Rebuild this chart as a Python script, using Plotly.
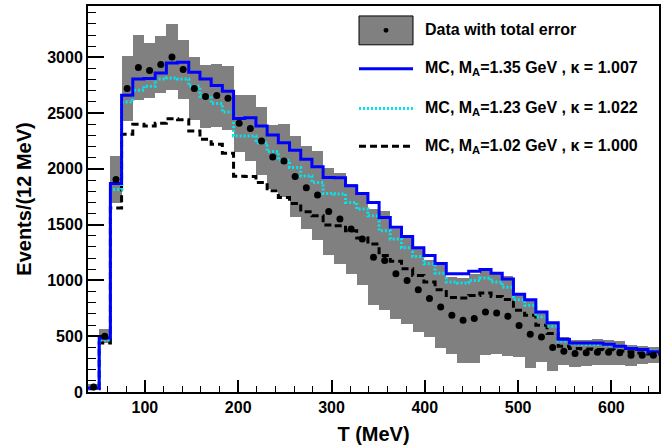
import numpy as np
import plotly.graph_objects as go

# binning: 51 bins of 12 MeV starting at 39 MeV
t_start = 39
bin_w = 12
n_bins = 51

data_val = [45, 500, 1905, 2720, 2908, 2881, 2935, 3003, 2890, 2720,
            2649, 2658, 2634, 2408, 2363, 2250, 2107, 2071, 1931, 1830,
            1765, 1619, 1551, 1461, 1372, 1208, 1179, 1060, 1000, 917,
            839, 762, 688, 643, 658, 717, 708, 679, 595, 518,
            494, 400, 366, 345, 351, 357, 357, 351, 330, 330, 330]
data_err = [25, 63, 208, 290, 288, 243, 253, 297, 265, 280,
            280, 285, 285, 258, 295, 301, 283, 327, 365, 372,
            399, 391, 408, 401, 417, 431, 447, 402, 387, 378,
            345, 372, 343, 381, 396, 387, 363, 358, 280, 301,
            223, 209, 125, 120, 118, 115, 112, 105, 95, 80, 70]
mc_135 = [35, 485, 1870, 2660, 2806, 2810, 2860, 2949, 2955, 2866,
          2806, 2747, 2696, 2452, 2458, 2384, 2304, 2235, 2167, 2086,
          2018, 1923, 1920, 1848, 1780, 1699, 1565, 1476, 1393, 1292,
          1223, 1152, 1060, 1060, 1083, 1098, 1065, 1012, 877, 828,
          717, 620, 472, 440, 440, 440, 429, 411, 390, 381, 360]
mc_123 = [33, 465, 1815, 2600, 2705, 2741, 2806, 2815, 2806, 2741,
          2652, 2586, 2510, 2295, 2295, 2235, 2155, 2077, 2012, 1937,
          1878, 1780, 1775, 1699, 1640, 1580, 1446, 1372, 1292, 1214,
          1149, 1065, 985, 976, 1000, 1021, 985, 940, 827, 777,
          673, 589, 455, 430, 425, 425, 420, 405, 392, 382, 365]
mc_102 = [30, 440, 1650, 2310, 2400, 2384, 2408, 2449, 2440, 2339,
          2265, 2220, 2140, 1935, 1931, 1878, 1804, 1744, 1690, 1616,
          1580, 1497, 1491, 1446, 1381, 1327, 1223, 1173, 1104, 1045,
          985, 917, 848, 842, 866, 887, 857, 830, 732, 688,
          598, 524, 410, 390, 385, 380, 378, 368, 360, 350, 340]

edges = t_start + bin_w * np.arange(n_bins + 1)
centers = edges[:-1] + bin_w / 2
data_val = np.array(data_val)
data_err = np.array(data_err)

FONT = "Liberation Sans"

fig = go.Figure()

# total error band (one box per bin)
fig.add_trace(go.Bar(x=centers, y=2 * data_err, base=data_val - data_err,
                     width=bin_w, marker=dict(color="#808080", line=dict(width=0)),
                     showlegend=False, hoverinfo="skip"))


def step(vals, color, dash):
    fig.add_trace(go.Scatter(x=edges, y=list(vals) + [vals[-1]], mode="lines",
                             line=dict(color=color, width=3, dash=dash, shape="hv"),
                             showlegend=False))


step(mc_102, "black", "7px,4px")
step(mc_123, "#00e5ee", "2px,2px")
step(mc_135, "#0000ff", "solid")

fig.add_trace(go.Scatter(x=centers, y=data_val, mode="markers",
                         marker=dict(color="black", size=7), showlegend=False))

# hand-made legend, ROOT style
def px_x(p):
    return (p - 88) / 571


def px_y(p):
    return (392 - p) / 388


shapes = [
    dict(type="rect", xref="paper", yref="paper", x0=px_x(359), x1=px_x(413),
         y0=px_y(43), y1=px_y(14), fillcolor="#808080", line=dict(color="black", width=1)),
    dict(type="circle", xref="paper", yref="paper", x0=px_x(383.5), x1=px_x(388.5),
         y0=px_y(31), y1=px_y(26), fillcolor="black", line=dict(color="black", width=0)),
    dict(type="line", xref="paper", yref="paper", x0=px_x(359), x1=px_x(413),
         y0=px_y(67), y1=px_y(67), line=dict(color="#0000ff", width=3)),
    dict(type="line", xref="paper", yref="paper", x0=px_x(359), x1=px_x(413),
         y0=px_y(107), y1=px_y(107), line=dict(color="#00e5ee", width=3, dash="2px,2px")),
    dict(type="line", xref="paper", yref="paper", x0=px_x(359), x1=px_x(413),
         y0=px_y(145), y1=px_y(145), line=dict(color="black", width=3, dash="7px,4px")),
]
labels = ["Data with total error",
          "MC, M<sub>A</sub>=1.35 GeV , κ = 1.007",
          "MC, M<sub>A</sub>=1.23 GeV , κ = 1.022",
          "MC, M<sub>A</sub>=1.02 GeV , κ = 1.000"]
rows = [28, 67, 107, 145]
annotations = []
for lab, r in zip(labels, rows):
    annotations.append(dict(text=lab, xref="paper", yref="paper", x=px_x(423), y=px_y(r),
                            xanchor="left", yanchor="middle", showarrow=False,
                            font=dict(family=FONT, size=16, color="black", weight="bold")))

fig.update_layout(
    width=672, height=447,
    margin=dict(l=88, r=13, t=4, b=55),
    paper_bgcolor="white", plot_bgcolor="white",
    bargap=0, showlegend=False,
    shapes=shapes, annotations=annotations,
    font=dict(family=FONT, color="black"),
)
fig.update_xaxes(range=[39, 651], showgrid=False, zeroline=False,
                 showline=True, linecolor="black", linewidth=2, mirror=True,
                 ticks="inside", ticklen=12, tickwidth=1.5, tickcolor="black",
                 tickvals=[100, 200, 300, 400, 500, 600],
                 minor=dict(ticks="inside", ticklen=6, tickwidth=1, tickcolor="black", dtick=20,
                            tick0=0, showgrid=False),
                 tickfont=dict(size=16, weight="bold"),
                 title=dict(text="T (MeV)", font=dict(size=20, weight="bold"), standoff=12))
fig.update_yaxes(range=[0, 3460], showgrid=False, zeroline=False,
                 showline=True, linecolor="black", linewidth=2, mirror=True,
                 ticks="inside", ticklen=16, tickwidth=1.5, tickcolor="black",
                 tick0=0, dtick=500,
                 minor=dict(ticks="inside", ticklen=8, tickwidth=1, tickcolor="black", dtick=100,
                            showgrid=False),
                 tickfont=dict(size=16, weight="bold"),
                 title=dict(text="Events/(12 MeV)", font=dict(size=20, weight="bold"), standoff=10))

# page body has a default margin; drop it so the figure sits at the window corner
fig.write_html("out.html", config={"displayModeBar": False},
               post_script="document.body.style.margin='0';")
